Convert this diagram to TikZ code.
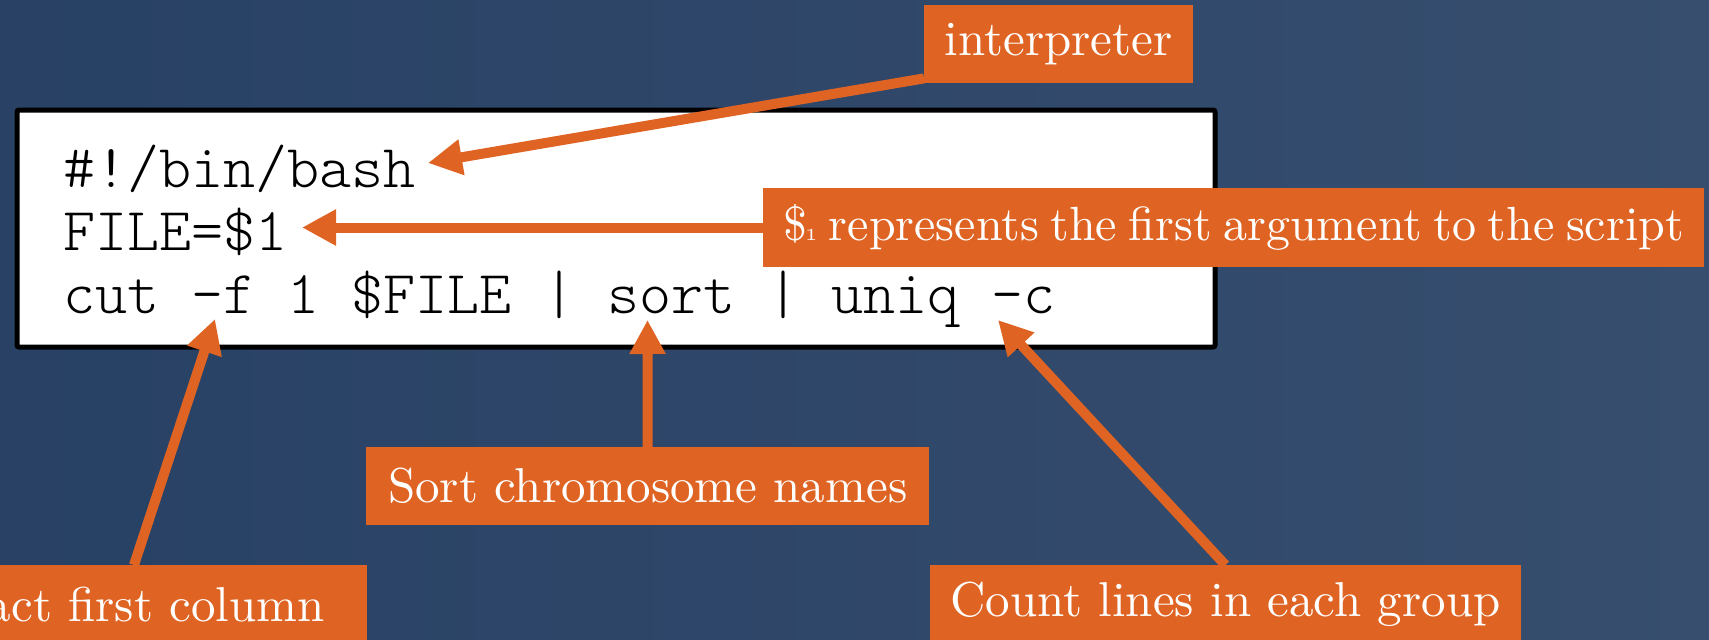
\documentclass[tikz,border=0pt]{standalone}
\usepackage{fontspec}
\newfontfamily\codefont{lmmonolt10-regular.otf}
\newfontfamily\lblfont{lmroman10-regular.otf}
\usetikzlibrary{arrows.meta}
\definecolor{calloutorange}{HTML}{DF6322}
\definecolor{slateA}{HTML}{2C4870}
\definecolor{slateB}{HTML}{3D5679}
\begin{document}
\begin{tikzpicture}[x=1pt,y=-1pt,
  lbl/.style={fill=calloutorange, text=white, font=\lblfont\fontsize{49}{52}\selectfont,
    inner xsep=20pt, inner ysep=0pt, minimum height=78pt},
  callout/.style={draw=calloutorange, line width=10pt,
    -{Triangle[length=34pt,width=34pt]}},
  codeline/.style={anchor=base west, inner sep=0pt,
    font=\codefont\fontsize{61}{66}\selectfont},
  codebox/.style={draw=black, line width=5pt, fill=white, rounded corners=2pt,
    inner sep=0pt}]
% slate background
\useasboundingbox (0,0) rectangle (1709,640);
\shade[left color=slateA, right color=slateB] (0,0) rectangle (1709,640);
\shade[top color=black, middle color=white, bottom color=black, opacity=0.09]
  (0,0) rectangle (1709,640);

% the script
\node[codebox, minimum width=1198pt, minimum height=237pt, anchor=north west]
  (code) at (14.5,107.5) {};
\node[codeline] (l1) at (63,187) {\#!/bin/bash};
\node[codeline] (l2) at (63,250) {FILE=\$1};
\node[codeline] (l3) at (63,313) {cut -f 1 \$FILE | sort | uniq -c};

% arrow targets inside the script
\coordinate (tipbash) at (428,163);
\coordinate (tipfile) at (302,227.5);
\coordinate (tipcut) at (215,319);
\coordinate (tipsort) at (647.5,320);
\coordinate (tipuniq) at (998,320);
\coordinate (cutbase) at (134,0);

% callout labels
\node[lbl, minimum width=269pt, anchor=north west] (interp) at (924,5) {interpreter};
\node[lbl, minimum height=79pt, anchor=west, font=\lblfont\fontsize{48}{52}\selectfont]
  (dollar) at (763,227.5)
  {\spaceskip=.24em\$\kern-2pt{\usefont{OML}{cmm}{m}{it}1} represents the first argument to the script};
\node[lbl, minimum width=563pt, anchor=north west] (sortlbl) at (366,447) {Sort chromosome names};
\node[lbl, anchor=north east] (extract) at (367,565) {Extract first column\kern22pt};
\node[lbl, minimum width=580pt, anchor=north west] (count) at (930,565) {Count lines in each group};

% callout arrows
\draw[callout] ([yshift=5pt]interp.south west) -- (tipbash);
\draw[callout] (dollar.west) -- (tipfile);
\draw[callout] (extract.north -| cutbase) -- (tipcut);
\draw[callout] (sortlbl.north) -- (tipsort);
\draw[callout] (count.north) -- (tipuniq);
\end{tikzpicture}
\end{document}
